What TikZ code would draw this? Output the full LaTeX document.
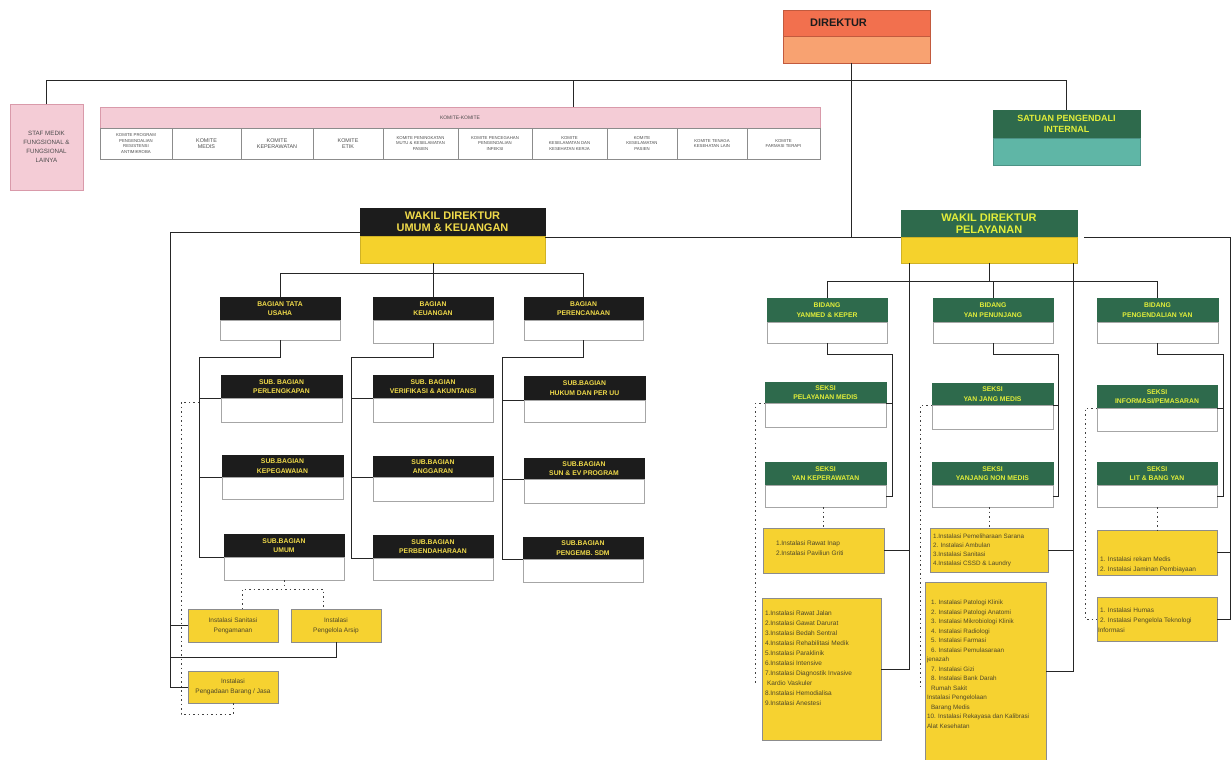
\documentclass[tikz,border=0pt]{standalone}
\usepackage{fontspec}
\setmainfont{Liberation Sans}
\definecolor{hblack}{HTML}{1C1C1C}
\definecolor{hyel}{HTML}{F0DA4A}
\definecolor{hgreen}{HTML}{2E6A4C}
\definecolor{gtxt}{HTML}{E2EE3A}
\definecolor{byel}{HTML}{F5D22C}
\definecolor{iyel}{HTML}{F6D230}
\definecolor{ored}{HTML}{F2704E}
\definecolor{olight}{HTML}{F8A271}
\definecolor{pinkf}{HTML}{F4CCD6}
\definecolor{pinkd}{HTML}{D99AAA}
\definecolor{tealc}{HTML}{5FB6A6}
\definecolor{dtxt}{HTML}{4F4728}
\newcommand\twobox[9]{%
 \pgfmathsetmacro\bxc{(#2+#4)/2}%
 \pgfmathsetmacro\bxw{#4-#2}%
 \pgfmathsetmacro\byt{(#3+#5)/2}%
 \pgfmathsetmacro\byh{#5-#3}%
 \pgfmathsetmacro\byb{(#5+#6)/2}%
 \pgfmathsetmacro\byhb{#6-#5}%
 \node[#7, minimum width=\bxw pt, minimum height=\byh pt] (#1) at (\bxc,\byt) {#9};
 \node[#8, minimum width=\bxw pt, minimum height=\byhb pt] (#1b) at (\bxc,\byb) {};
}
\newcommand\ibox[5]{\parbox[c][#2pt][t]{#1pt}{\raggedright\setlength\leftskip{#4pt}\vspace*{#3pt}#5}}
\begin{document}
\begin{tikzpicture}[x=1pt,y=-1pt,
 base/.style={inner sep=0pt, outer sep=0pt, align=center},
 dirt/.style={base, fill=ored, draw=ored!80!black, line width=0.4pt, text=hblack, font=\bfseries\fontsize{11}{12}\selectfont},
 dirlow/.style={base, fill=olight, draw=ored!80!black, line width=0.4pt},
 blk/.style={base, fill=hblack, draw=hblack, text=hyel, font=\bfseries\fontsize{6.8}{9.5}\selectfont},
 blkbig/.style={blk, font=\bfseries\fontsize{11}{12}\selectfont},
 grn/.style={base, fill=hgreen, draw=hgreen, text=gtxt, font=\bfseries\fontsize{6.8}{9.5}\selectfont},
 grnbig/.style={grn, font=\bfseries\fontsize{11}{12}\selectfont},
 grnmid/.style={grn, font=\bfseries\fontsize{9}{11}\selectfont},
 ylw/.style={base, fill=byel, draw=byel!85!black, line width=0.4pt},
 tealb/.style={base, fill=tealc, draw=tealc!80!black, line width=0.4pt},
 wht/.style={base, fill=white, draw=black!35, line width=0.6pt},
 pinkbox/.style={base, fill=pinkf, draw=pinkd, line width=0.6pt, text=black!70, font=\fontsize{6.2}{9}\selectfont},
 kcell/.style={base, fill=white, draw=black!45, line width=0.5pt, text=black!70, font=\fontsize{5.4}{6.4}\selectfont, minimum height=31pt},
 kcells/.style={kcell, font=\fontsize{4.3}{5.6}\selectfont},
 inst/.style={base, fill=iyel, draw=black!45, line width=0.6pt, text=dtxt, align=left, font=\fontsize{6.5}{10}\selectfont},
 instc/.style={base, fill=iyel, draw=black!45, line width=0.6pt, text=dtxt, font=\fontsize{6.5}{10}\selectfont},
 conn/.style={draw=black!85, line width=0.9pt},
 dotc/.style={draw=black!75, line width=1pt, dash pattern=on 1.5pt off 3pt}
]
\useasboundingbox[fill=white] (0,0) rectangle (1232,760);

% ---------- top level ----------
\twobox{dir}{783}{10}{930}{36}{63}{dirt}{dirlow}{DIREKTUR\hspace*{36pt}}
\node[pinkbox, minimum width=73pt, minimum height=86pt] (staf) at (46.5,147) {STAF MEDIK\\FUNGSIONAL \&\\FUNGSIONAL\\LAINYA};
\node[base, fill=pinkf, draw=pinkd, line width=0.6pt, minimum width=720pt, minimum height=21pt, text=black!70, font=\fontsize{5}{6}\selectfont] (kh) at (460,117.5) {KOMITE-KOMITE};
\node[kcells, minimum width=72pt] (k1) at (136,143.5) {KOMITE PROGRAM\\PENGENDALIAN\\RESISTENSI\\ANTIMIKROBA};
\node[kcell, minimum width=69pt] (k2) at (206.5,143.5) {KOMITE\\MEDIS};
\node[kcell, minimum width=72pt] (k3) at (277,143.5) {KOMITE\\KEPERAWATAN};
\node[kcell, minimum width=70pt] (k4) at (348,143.5) {KOMITE\\ETIK};
\node[kcells, minimum width=75pt] (k5) at (420.5,143.5) {KOMITE PENINGKATAN\\MUTU \& KESELAMATAN\\PASIEN};
\node[kcells, minimum width=74pt] (k6) at (495,143.5) {KOMITE PENCEGAHAN\\PENGENDALIAN\\INFEKSI};
\node[kcells, minimum width=75pt] (k7) at (569.5,143.5) {KOMITE\\KESELAMATAN DAN\\KESEHATAN KERJA};
\node[kcells, minimum width=70pt] (k8) at (642,143.5) {KOMITE\\KESELAMATAN\\PASIEN};
\node[kcells, minimum width=70pt] (k9) at (712,143.5) {KOMITE TENAGA\\KESEHATAN LAIN};
\node[kcells, minimum width=73pt] (k10) at (783.5,143.5) {KOMITE\\FARMASI TERAPI};
\twobox{spi}{993}{110}{1140}{138}{165}{grnmid}{tealb}{SATUAN PENGENDALI\\INTERNAL}

\coordinate (busL) at (48,80);
\coordinate (kx) at (573,107);
\coordinate (dv) at (851,63);
\draw[conn] (staf.north) -- (staf.north |- busL) -- (spi.north |- busL) -- (spi.north);
\draw[conn] (kx) -- (kx |- busL);

% ---------- wakil direktur ----------
\twobox{wku}{360}{208}{545}{236}{263}{blkbig}{ylw}{WAKIL DIREKTUR\\UMUM \& KEUANGAN}
\twobox{wpl}{901}{210}{1077}{237}{263}{grnbig}{ylw}{WAKIL DIREKTUR\\PELAYANAN}
\draw[conn] (dv) -- (dv |- wpl.south);
\draw[conn] (wku.east |- wpl.south) -- (wpl.south west);

% ---------- left subtree ----------
\twobox{bt}{220}{297}{340}{320}{340}{blk}{wht}{BAGIAN TATA\\USAHA}
\twobox{bk}{373}{297}{493}{320}{343}{blk}{wht}{BAGIAN\\KEUANGAN}
\twobox{bp}{524}{297}{643}{320}{340}{blk}{wht}{BAGIAN\\PERENCANAAN}
\coordinate (hb1) at (0,273);
\draw[conn] (bk.north) -- (bk.north |- wkub.south);
\draw[conn] (bt.north) -- (bt.north |- hb1) -- (bp.north |- hb1) -- (bp.north);

\twobox{sbpl}{221}{375}{342}{398}{422}{blk}{wht}{SUB. BAGIAN\\PERLENGKAPAN}
\twobox{sbk}{222}{455}{343}{477}{499}{blk}{wht}{SUB.BAGIAN\\KEPEGAWAIAN}
\twobox{sbu}{224}{534}{344}{557}{580}{blk}{wht}{SUB.BAGIAN\\UMUM}
\twobox{sbv}{373}{375}{493}{398}{422}{blk}{wht}{SUB. BAGIAN\\VERIFIKASI \& AKUNTANSI}
\twobox{sba}{373}{456}{493}{477}{501}{blk}{wht}{SUB.BAGIAN\\ANGGARAN}
\twobox{sbb}{373}{535}{493}{558}{580}{blk}{wht}{SUB.BAGIAN\\PERBENDAHARAAN}
\twobox{sbh}{524}{376}{645}{400}{422}{blk}{wht}{SUB.BAGIAN\\HUKUM DAN PER UU}
\twobox{sbs}{524}{458}{644}{479}{503}{blk}{wht}{SUB.BAGIAN\\SUN \& EV PROGRAM}
\twobox{sbd}{523}{537}{643}{559}{582}{blk}{wht}{SUB.BAGIAN\\PENGEMB. SDM}

\coordinate (v1) at (199,357);
\coordinate (v2) at (351,357);
\coordinate (v3) at (502,357);
\draw[conn] (btb.south) |- (v1) -- (v1 |- sbu.south west) -- (sbu.south west);
\draw[conn] (v1 |- sbpl.south west) -- (sbpl.south west);
\draw[conn] (v1 |- sbk.south west) -- (sbk.south west);
\draw[conn] (bkb.south) |- (v2) -- (v2 |- sbb.south west) -- (sbb.south west);
\draw[conn] (v2 |- sbv.south west) -- (sbv.south west);
\draw[conn] (v2 |- sba.south west) -- (sba.south west);
\draw[conn] (bpb.south) |- (v3) -- (v3 |- sbd.south west) -- (sbd.south west);
\draw[conn] (v3 |- sbh.south west) -- (sbh.south west);
\draw[conn] (v3 |- sbs.south west) -- (sbs.south west);

\node[instc, minimum width=90pt, minimum height=33pt] (san) at (233,625.5) {Instalasi Sanitasi\\Pengamanan};
\node[instc, minimum width=90pt, minimum height=33pt] (ars) at (336,625.5) {Instalasi\\Pengelola Arsip};
\node[instc, minimum width=90pt, minimum height=32pt] (pbj) at (233,687) {Instalasi\\Pengadaan Barang / Jasa};

\coordinate (L1) at (170,232);
\coordinate (L2) at (170,657);
\draw[conn] (wku.west |- L1) -- (L1) -- (L1 |- pbj.west) -- (pbj.west);
\draw[conn] (L1 |- san.west) -- (san.west);
\draw[conn] (ars.south) |- (L2);

\coordinate (d1) at (242,589);
\coordinate (d2) at (323,589);
\coordinate (d3) at (181,402);
\coordinate (d4) at (181,714);
\draw[dotc] (sbub.south) -- (sbub.south |- d1);
\draw[dotc] (san.north -| d1) -- (d1) -- (d2) -- (ars.north -| d2);
\draw[dotc] (d3 -| v1) -- (d3) -- (d4) -- (d4 -| pbj.south) -- (pbj.south);

% ---------- right subtree ----------
\twobox{b1}{767}{298}{887}{322}{343}{grn}{wht}{BIDANG\\YANMED \& KEPER}
\twobox{b2}{933}{298}{1053}{322}{343}{grn}{wht}{BIDANG\\YAN PENUNJANG}
\twobox{b3}{1097}{298}{1218}{322}{343}{grn}{wht}{BIDANG\\PENGENDALIAN YAN}
\coordinate (hb2) at (0,281);
\draw[conn] (wplb.south) -- (wplb.south |- hb2);
\draw[conn] (b1.north) -- (b1.north |- hb2) -- (b3.north |- hb2) -- (b3.north);
\draw[conn] (b2.north) -- (b2.north |- hb2);

\twobox{s1}{765}{382}{886}{403}{427}{grn}{wht}{SEKSI\\PELAYANAN MEDIS}
\twobox{s2}{765}{462}{886}{485}{507}{grn}{wht}{SEKSI\\YAN KEPERAWATAN}
\twobox{s3}{932}{383}{1053}{405}{429}{grn}{wht}{SEKSI\\YAN JANG MEDIS}
\twobox{s4}{932}{462}{1053}{485}{507}{grn}{wht}{SEKSI\\YANJANG NON MEDIS}
\twobox{s5}{1097}{385}{1217}{408}{431}{grn}{wht}{SEKSI\\INFORMASI/PEMASARAN}
\twobox{s6}{1097}{462}{1217}{485}{507}{grn}{wht}{SEKSI\\LIT \& BANG YAN}

\coordinate (S1) at (892,354);
\coordinate (S2) at (1058,354);
\coordinate (S3) at (1223,354);
\draw[conn] (b1b.south) |- (S1) -- (S1 |- s2b.east) -- (s2b.east);
\draw[conn] (s1.south east) -- (s1.south east -| S1);
\draw[conn] (b2b.south) |- (S2) -- (S2 |- s4b.east) -- (s4b.east);
\draw[conn] (s3.south east) -- (s3.south east -| S2);
\draw[conn] (b3b.south) |- (S3) -- (S3 |- s6b.east) -- (s6b.east);
\draw[conn] (s5.south east) -- (s5.south east -| S3);

\node[inst] (i1) at (823.5,550.5) {\ibox{121}{45}{13}{13}{1.Instalasi Rawat Inap\\2.Instalasi Paviliun Griti}};
\node[inst] (i2) at (821.5,669) {\ibox{119}{142}{13}{3}{1.Instalasi Rawat Jalan\\2.Instalasi Gawat Darurat\\3.Instalasi Bedah Sentral\\4.Instalasi Rehabilitasi Medik\\5.Instalasi Paraklinik\\6.Instalasi Intensive\\7.Instalasi Diagnostik Invasive\\\hspace*{2pt}Kardio Vaskuler\\8.Instalasi Hemodialisa\\9.Instalasi Anestesi}};
\node[inst] (m1) at (989,550) {\ibox{118}{44}{6}{3}{\fontsize{6.3}{9}\selectfont 1.Instalasi Pemeliharaan Sarana\\2. Instalasi Ambulan\\3.Instalasi Sanitasi\\4.Instalasi CSSD \& Laundry}};
\node[inst] (m2) at (985.5,671) {\ibox{121}{178}{18}{2}{\fontsize{6.3}{9.5}\selectfont \hspace*{4pt}1. Instalasi Patologi Klinik\\\hspace*{4pt}2. Instalasi Patologi Anatomi\\\hspace*{4pt}3. Instalasi Mikrobiologi Klinik\\\hspace*{4pt}4. Instalasi Radiologi\\\hspace*{4pt}5. Instalasi Farmasi\\\hspace*{4pt}6. Instalasi Pemulasaraan\\jenazah\\\hspace*{4pt}7. Instalasi Gizi\\\hspace*{4pt}8. Instalasi Bank Darah\\\hspace*{4pt}Rumah Sakit\\Instalasi Pengelolaan\\\hspace*{4pt}Barang Medis\\10. Instalasi Rekayasa dan Kalibrasi\\Alat Kesehatan}};
\node[inst] (r1) at (1157,552.5) {\ibox{120}{45}{27}{3}{1. Instalasi rekam Medis\\2. Instalasi Jaminan Pembiayaan}};
\node[inst] (r2) at (1157,619) {\ibox{120}{44}{11}{1}{\hspace*{2pt}1. Instalasi Humas\\\hspace*{2pt}2. Instalasi Pengelola Teknologi\\Informasi}};

\coordinate (V1) at (909,263);
\coordinate (V2) at (1073,263);
\coordinate (R0) at (1230,237);
\draw[conn] (V1) -- (V1 |- i2.east) -- (i2.east);
\draw[conn] (i1.east) -- (i1.east -| V1);
\draw[conn] (V2) -- (V2 |- m2.east) -- (m2.east);
\draw[conn] (m1.east) -- (m1.east -| V2);
\draw[conn] (wpl.south east) ++(7,0) -- (R0) -- (R0 |- r2.east) -- (r2.east);
\draw[conn] (r1.east) -- (r1.east -| R0);

\coordinate (P1) at (755,403);
\coordinate (P1e) at (755,685);
\coordinate (P2) at (920,405);
\coordinate (P2e) at (920,688);
\coordinate (P3) at (1085,408);
\draw[dotc] (s1.south west) -- (P1) -- (P1e);
\draw[dotc] (s3.south west) -- (P2) -- (P2e);
\draw[dotc] (s5.south west) -- (P3) -- (P3 |- r2.west) -- (r2.west);
\draw[dotc] (i1.north |- s2b.south) -- (i1.north);
\draw[dotc] (m1.north |- s4b.south) -- (m1.north);
\draw[dotc] (r1.north |- s6b.south) -- (r1.north);
\end{tikzpicture}
\end{document}
